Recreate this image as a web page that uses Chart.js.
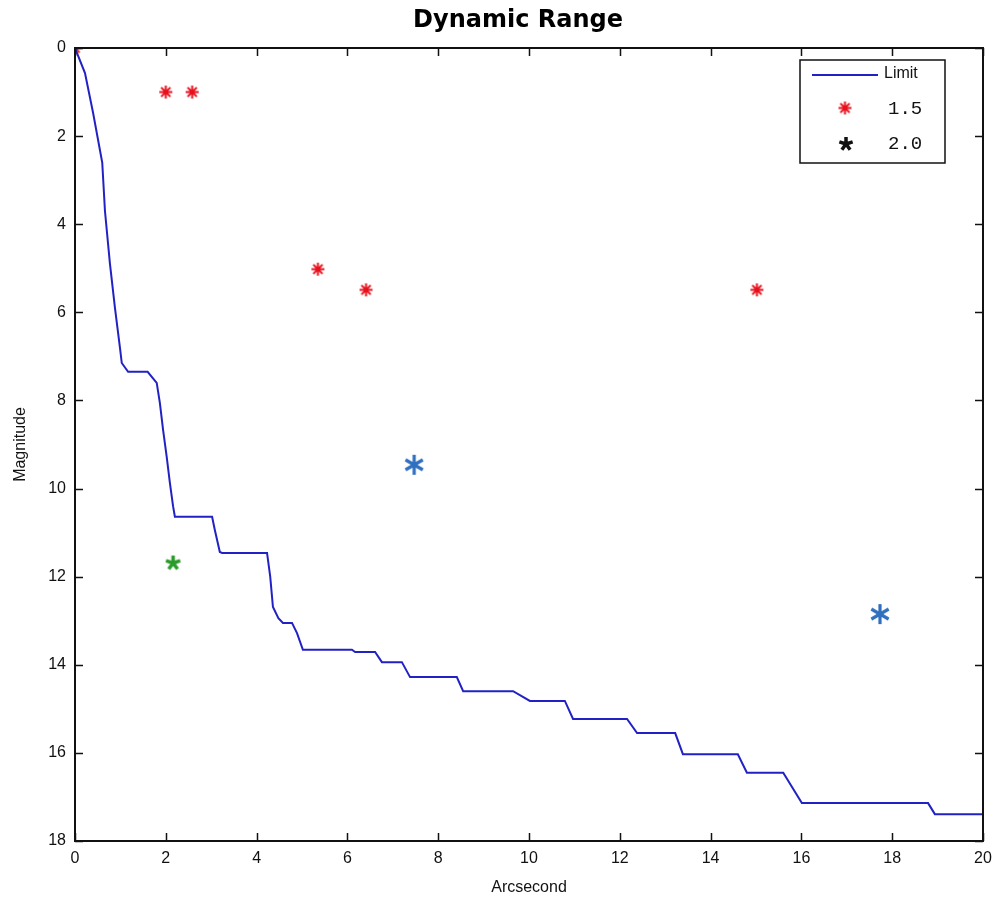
<!DOCTYPE html>
<html>
<head>
<meta charset="utf-8">
<script src="https://cdn.jsdelivr.net/npm/chart.js@4"></script>
<style>
  html, body { margin: 0; padding: 0; background: #fff; }
  #wrap { width: 995px; height: 904px; }
</style>
</head>
<body>
<div id="wrap"><canvas id="myChart" width="995" height="904"></canvas></div>
<script>
// limit curve (arcsec vs magnitude)
let limitX = [0, 0.22, 0.4, 0.6, 0.66, 0.77, 0.88, 0.99, 1.03, 1.17, 1.6, 1.8, 1.87, 1.94, 2.02, 2.09, 2.16, 2.2,
    3.02, 3.08, 3.19, 3.24, 4.23, 4.3, 4.36, 4.48, 4.58, 4.78, 4.89, 5.02, 6.1, 6.17, 6.61, 6.76, 7.2, 7.38,
    8.41, 8.55, 9.65, 10.02, 10.79, 10.97, 12.16, 12.38, 13.22, 13.39, 14.6, 14.8, 15.6, 16.01, 18.79, 18.94, 20];
let limitY = [0, 0.57, 1.48, 2.6, 3.7, 4.9, 5.9, 6.8, 7.15, 7.35, 7.35, 7.6, 8.06, 8.67, 9.28, 9.87, 10.4, 10.64,
    10.64, 10.94, 11.44, 11.46, 11.46, 12.0, 12.69, 12.94, 13.05, 13.05, 13.28, 13.66, 13.66, 13.71, 13.71, 13.94, 13.94, 14.28,
    14.28, 14.6, 14.6, 14.82, 14.82, 15.23, 15.23, 15.55, 15.55, 16.03, 16.03, 16.45, 16.45, 17.14, 17.14, 17.39, 17.39];

// companions, ratio 1.5
let sep15 = [0, 2.0, 2.58, 5.35, 6.41, 15.02];
let mag15 = [0, 1.0, 1.0, 5.02, 5.49, 5.49];
// ratio 2.0 (none)
let sep20 = [];
let mag20 = [];
// other detections
let sepGreen = [2.16];
let magGreen = [11.69];
let sepBlue = [7.47, 17.73];
let magBlue = [9.46, 12.85];

let xTicks = [0, 2, 4, 6, 8, 10, 12, 14, 16, 18, 20];
let yTicks = [0, 2, 4, 6, 8, 10, 12, 14, 16, 18];

const chartTitle = 'Dynamic Range';

function toPoints(xs, ys) {
    return xs.map(function(x, i) { return {x: x, y: ys[i]}; });
}

// asterisk marker drawn on a small canvas
function makeAsterisk(arms, size, lineWidth, color) {
    let c = document.createElement('canvas');
    c.width = size + 4;
    c.height = size + 4;
    let ctx = c.getContext('2d');
    let cx = c.width / 2, cy = c.height / 2, r = size / 2;
    ctx.strokeStyle = color;
    ctx.lineWidth = lineWidth;
    ctx.lineCap = 'butt';
    ctx.beginPath();
    for (let k = 0; k < arms; k++) {
        let a = -Math.PI / 2 + k * 2 * Math.PI / arms;
        ctx.moveTo(cx, cy);
        ctx.lineTo(cx + r * Math.cos(a), cy + r * Math.sin(a));
    }
    ctx.stroke();
    return c;
}

const redStar = makeAsterisk(8, 13, 2, '#e8101c');
const blackStar = makeAsterisk(5, 14, 3.5, '#111111');
const greenStar = makeAsterisk(5, 15, 3.5, '#2a9a2a');
const blueStar = makeAsterisk(6, 20, 3.2, '#2f6fc0');

const lineColor = '#2222c4';

// inward ticks on all four sides plus the box, and the heading
const frameTicks = {
    id: 'frameTicks',
    afterDatasetsDraw(chart) {
        const ctx = chart.ctx;
        const a = chart.chartArea;
        const xs = chart.scales.x, ys = chart.scales.y;
        const len = 8;
        ctx.save();
        ctx.strokeStyle = '#111';
        ctx.lineWidth = 1.5;
        ctx.beginPath();
        xTicks.forEach(function(v) {
            let px = Math.round(xs.getPixelForValue(v)) + 0.5;
            ctx.moveTo(px, a.bottom); ctx.lineTo(px, a.bottom - len);
            ctx.moveTo(px, a.top); ctx.lineTo(px, a.top + len);
        });
        yTicks.forEach(function(v) {
            let py = Math.round(ys.getPixelForValue(v)) + 0.5;
            ctx.moveTo(a.left, py); ctx.lineTo(a.left + len, py);
            ctx.moveTo(a.right, py); ctx.lineTo(a.right - len, py);
        });
        ctx.stroke();
        ctx.lineWidth = 2;
        ctx.strokeRect(a.left, a.top, a.right - a.left, a.bottom - a.top);

        ctx.fillStyle = '#000';
        ctx.font = 'bold 24px "DejaVu Sans", sans-serif';
        ctx.textAlign = 'center';
        ctx.textBaseline = 'middle';
        ctx.fillText(chartTitle, 518, 21);
        ctx.restore();
    }
};

// boxed legend in the upper right of the plot
const boxLegend = {
    id: 'boxLegend',
    afterDraw(chart) {
        const ctx = chart.ctx;
        const a = chart.chartArea;
        const w = 145, h = 103;
        const x0 = a.right - 183, y0 = a.top + 12;
        ctx.save();
        ctx.fillStyle = '#fff';
        ctx.fillRect(x0, y0, w, h);
        ctx.strokeStyle = '#111';
        ctx.lineWidth = 1.5;
        ctx.strokeRect(x0, y0, w, h);

        const ds = chart.data.datasets;
        // line entry
        ctx.strokeStyle = lineColor;
        ctx.lineWidth = 2;
        ctx.beginPath();
        ctx.moveTo(x0 + 12, y0 + 15);
        ctx.lineTo(x0 + 78, y0 + 15);
        ctx.stroke();
        ctx.fillStyle = '#111';
        ctx.textBaseline = 'middle';
        ctx.font = '16px "Liberation Sans", Arial, sans-serif';
        ctx.fillText(ds[0].label, x0 + 84, y0 + 14);

        // marker entries
        ctx.font = '19px "Liberation Mono", "DejaVu Sans Mono", monospace';
        ctx.drawImage(redStar, x0 + 45 - redStar.width / 2, y0 + 48 - redStar.height / 2);
        ctx.fillText(ds[1].label, x0 + 88, y0 + 49);
        ctx.drawImage(blackStar, x0 + 46 - blackStar.width / 2, y0 + 84 - blackStar.height / 2);
        ctx.fillText(ds[2].label, x0 + 88, y0 + 84);
        ctx.restore();
    }
};

let chartElement = document.getElementById('myChart').getContext('2d');

let myChart = new Chart(chartElement, {
    type: 'scatter',
    data: {
        datasets: [{
            label: 'Limit',
            data: toPoints(limitX, limitY),
            showLine: true,
            borderColor: lineColor,
            borderWidth: 2,
            pointRadius: 0,
            tension: 0
        }, {
            label: '1.5',
            data: toPoints(sep15, mag15),
            pointStyle: redStar
        }, {
            label: '2.0',
            data: toPoints(sep20, mag20),
            pointStyle: blackStar
        }, {
            label: '',
            data: toPoints(sepGreen, magGreen),
            pointStyle: greenStar
        }, {
            label: '',
            data: toPoints(sepBlue, magBlue),
            pointStyle: blueStar
        }]
    },
    options: {
        responsive: false,
        animation: false,
        layout: { padding: { top: 48, right: 12, left: 0, bottom: 0 } },
        plugins: {
            legend: { display: false },
            tooltip: { enabled: false },
            title: { display: false }
        },
        scales: {
            x: {
                type: 'linear',
                min: 0,
                max: 20,
                afterFit: function(scale) {
                    scale.height = 63;
                    scale.paddingLeft = 0;
                    scale.paddingRight = 0;
                },
                afterBuildTicks: function(scale) { scale.ticks = xTicks.map(function(v) { return {value: v}; }); },
                grid: { display: false, drawTicks: false },
                border: { display: false },
                ticks: {
                    padding: 8,
                    color: '#111',
                    font: { family: '"Liberation Sans", Arial, sans-serif', size: 16 }
                },
                title: {
                    display: true,
                    text: 'Arcsecond',
                    color: '#111',
                    font: { family: '"Liberation Sans", Arial, sans-serif', size: 16 },
                    padding: { top: 0, bottom: 7 }
                }
            },
            y: {
                type: 'linear',
                reverse: true,
                min: 0,
                max: 18,
                afterFit: function(scale) {
                    scale.width = 75;
                    scale.paddingTop = 0;
                    scale.paddingBottom = 0;
                },
                afterBuildTicks: function(scale) { scale.ticks = yTicks.map(function(v) { return {value: v}; }); },
                grid: { display: false, drawTicks: false },
                border: { display: false },
                ticks: {
                    padding: 9,
                    color: '#111',
                    font: { family: '"Liberation Sans", Arial, sans-serif', size: 16 }
                },
                title: {
                    display: true,
                    text: 'Magnitude',
                    color: '#111',
                    font: { family: '"Liberation Sans", Arial, sans-serif', size: 16 },
                    padding: { top: 11, bottom: 0 }
                }
            }
        }
    },
    plugins: [frameTicks, boxLegend]
});
</script>
</body>
</html>
